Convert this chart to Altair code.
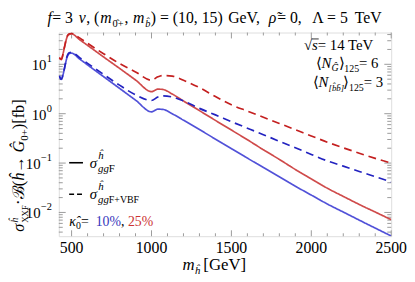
import altair as alt
import pandas as pd

# ---------------- data ----------------
mass = [423, 435, 455, 470, 485, 500, 550, 600, 700, 800, 900, 1000, 1040, 1070, 1130,
        1200, 1300, 1400, 1500, 1600, 1700, 1800, 1900, 2000, 2100, 2200, 2300, 2400, 2500]
ggf_k10 = [5.84, 4.97, 8.06, 13.36, 16.43, 16.81, 12.82, 9.73, 5.63, 3.26, 1.886, 1.091, 1.235, 1.224, 0.995,
           0.738, 0.477, 0.3055, 0.1956, 0.1259, 0.0813, 0.0526, 0.034, 0.02245, 0.01485, 0.01019, 0.00699, 0.00482, 0.00333]
ggf_k25 = [13.54, 12.47, 21.64, 34.3, 40.3, 41.2, 31.6, 24.2, 14.1, 8.28, 4.82, 2.80, 3.14, 3.10, 2.50,
           1.81, 1.153, 0.731, 0.466, 0.297, 0.186, 0.1186, 0.0742, 0.0479, 0.031, 0.02114, 0.01451, 0.01019, 0.00712]
ggfvbf_k10 = [5.84, 5.02, 8.25, 13.98, 17.2, 17.6, 13.67, 10.47, 6.26, 3.78, 2.415, 1.852, 2.176, 2.298, 2.176,
              1.81, 1.282, 0.946, 0.689, 0.509, 0.3757, 0.276, 0.204, 0.1498, 0.1106, 0.0867, 0.0677, 0.0531, 0.0416]
ggfvbf_k25 = [13.67, 12.76, 22.14, 35.87, 41.5, 42.5, 34.3, 26.6, 16.4, 10.37, 7.02, 4.75, 5.58, 5.92, 5.76,
              4.75, 3.37, 2.225, 1.512, 1.132, 0.847, 0.6345, 0.475, 0.354, 0.265, 0.204, 0.1584, 0.1246, 0.1]

series_names = ["ggF 10%", "ggF 25%", "ggF+VBF 10%", "ggF+VBF 25%"]
x_major = [500, 1000, 1500, 2000, 2500]
x_labels = ["500", "1000", "1500", "2000", "2500"]
x_minor = [m for m in range(600, 2500, 100) if m % 500 != 0]
y_major = [0.01, 0.1, 1, 10]
y_exponents = ["\u22122", "\u22121", "0", "1"]
y_minor = [k * 10.0 ** e for e in range(-3, 2) for k in range(2, 10) if 0.0033 <= k * 10.0 ** e <= 44]

# ---------------- layout / style ----------------
SERIF = "Liberation Serif"
FRAME = "#9a9a9a"
RED_S, RED_D = "#cf4a4a", "#c42020"
BLUE_S, BLUE_D = "#5151d8", "#2323c0"
W_PLOT, H_PLOT = 337, 206.5
PAD_L, PAD_T, PAD_R, PAD_B = 51.5, 23, 16, 42
OX, OY = 8 + PAD_L, 8 + PAD_T

xs = alt.Scale(domain=[420, 2500], nice=False, zero=False)
ys = alt.Scale(type="log", domain=[0.0033, 44], nice=False)

rows = []
for name, vals in zip(series_names, [ggf_k10, ggf_k25, ggfvbf_k10, ggfvbf_k25]):
    for m, v in zip(mass, vals):
        rows.append({"m": m, "v": v, "s": name})
df = pd.DataFrame(rows)

lines = alt.Chart(df).mark_line(strokeWidth=1.7, interpolate="monotone", clip=True).encode(
    x=alt.X("m:Q", scale=xs, axis=None),
    y=alt.Y("v:Q", scale=ys, axis=None),
    color=alt.Color("s:N", scale=alt.Scale(domain=series_names, range=[BLUE_S, RED_S, BLUE_D, RED_D]), legend=None),
    strokeDash=alt.StrokeDash("s:N", scale=alt.Scale(domain=series_names, range=[[1, 0], [1, 0], [8, 5], [8, 5]]), legend=None),
    detail="s:N",
)


def xticks(vals, length, top):
    d = pd.DataFrame({"m": vals})
    y1, y2 = (0, length) if top else (H_PLOT, H_PLOT - length)
    return alt.Chart(d).mark_rule(color=FRAME, strokeWidth=1).encode(
        x=alt.X("m:Q", scale=xs, axis=None), y=alt.value(y1), y2=alt.value(y2))


def yticks(vals, length, right):
    d = pd.DataFrame({"v": vals})
    x1, x2 = (W_PLOT, W_PLOT - length) if right else (0, length)
    return alt.Chart(d).mark_rule(color=FRAME, strokeWidth=1).encode(
        y=alt.Y("v:Q", scale=ys, axis=None), x=alt.value(x1), x2=alt.value(x2))


ticks = [xticks(x_major, 6, False), xticks(x_major, 6, True), xticks(x_minor, 3, False), xticks(x_minor, 3, True),
         yticks(y_major, 7, False), yticks(y_major, 7, True), yticks(y_minor, 4, False), yticks(y_minor, 4, True)]

# x tick labels
xlab = alt.Chart(pd.DataFrame({"m": x_major, "t": x_labels})).mark_text(
    font=SERIF, fontSize=16, align="center", baseline="alphabetic", color="black").encode(
    x=alt.X("m:Q", scale=xs, axis=None), y=alt.value(255 - OY), text="t:N")

# y tick labels "10^e"
ylab_df = pd.DataFrame({"v": y_major, "e": y_exponents})
ylab_base = alt.Chart(ylab_df).transform_calculate(
    xo="length(datum.e) > 1 ? -18.5 : -12.5")
ylab_ten = ylab_base.mark_text(font=SERIF, fontSize=15, align="right", baseline="middle", dy=1, color="black").encode(
    y=alt.Y("v:Q", scale=ys, axis=None), x=alt.X("xo:Q", scale=None), text=alt.value("10"))
ylab_exp = ylab_base.mark_text(font=SERIF, fontSize=10.5, align="right", baseline="middle", dy=-5, color="black").encode(
    y=alt.Y("v:Q", scale=ys, axis=None), x=alt.value(-7), text="e:N")

# ---------------- text annotations ----------------
CW = {' ': 0.25, ',': 0.25, '.': 0.25, '(': 0.333, ')': 0.333, '[': 0.333, ']': 0.333, '=': 0.564, '+': 0.564,
      '%': 0.833, '\u2212': 0.564, '\u00b7': 0.4, '\u2192': 0.75, '\u27e8': 0.39, '\u27e9': 0.39, '\u221a': 0.55,
      'f': 0.278, 'v': 0.444, 'm': 0.722, 'b': 0.5, 'h': 0.5, '\u0125': 0.5, 'g': 0.5, 's': 0.389, '\u03c1': 0.5,
      '\u03ba': 0.5, '\u03c3': 0.55, 'e': 0.444, 'G': 0.722, '\u011c': 0.722, 'V': 0.722, 'T': 0.611, '\u039b': 0.7,
      'N': 0.667, 'B': 0.667, '\u212c': 0.75, 'X': 0.722, 'F': 0.556,
      '\u0302': 0.0, '\u0303': 0.0, '\u0304': 0.0}


def wid(t, size):
    return sum(CW.get(c, 0.5) for c in t) * size


text_layers = []


def place(x0, y0, segs, angle=0, end=None):
    advs = [wid(s[0], s[2]) if (len(s) <= 5 or s[5]) else 0.0 for s in segs]
    stretch = 1.0
    if end is not None:
        total = sum(advs[:-1])
        stretch = (abs(end - (x0 if angle == 0 else y0)) - advs[-1]) / total
    pos = 0.0
    for seg, a in zip(segs, advs):
        t, style, size, shift = seg[:4]
        color = seg[4] if len(seg) > 4 and seg[4] else "black"
        if angle == 0:
            px, py = x0 + pos, y0 + shift
        else:
            px, py = x0 + shift, y0 - pos
        text_layers.append(alt.Chart().mark_text(
            font=SERIF, fontStyle="italic" if style == "i" else "normal", align="left", baseline="alphabetic"
        ).encode(x=alt.value(px - OX), y=alt.value(py - OY), text=alt.value(t), size=alt.value(size),
                 color=alt.value(color), angle=alt.value(angle)))
        pos += a * stretch


# title
TS = 16
place(48, 21, [("f", "i", TS, 0), (" = 3", "r", TS, 0), ("v", "i", TS, 0), (", (", "r", TS, 0),
               ("m", "i", TS, 0), ("0\u0302+", "r", 10.5, 4), (", ", "r", TS, 0),
               ("m", "i", TS, 0), ("b\u0302", "i", 10.5, 4), (") = (10, 15)", "r", TS, 0),
               ("GeV, ", "r", TS, 0), ("\u03c1\u0303", "i", TS, 0),
               (" = 0, ", "r", TS, 0), ("\u039b = 5 ", "r", TS, 0), ("TeV", "r", TS, 0)], end=388)
# x title
place(185, 272, [("m", "i", 17, 0), ("\u0125", "i", 11, 4)])
place(206, 272, [("[GeV]", "r", 17, 0)])
# y title (rotated)
place(24, 233, [("\u03c3", "i", 16.5, 0), ("\u0125", "i", 10, -5.5, None, False), ("XXF", "r", 9, 4),
                ("\u00b7", "r", 16.5, 0), ("\u212c", "r", 16.5, 0), ("(", "r", 16.5, 0), ("\u0125", "i", 16.5, 0),
                (" \u2192 ", "r", 16.5, 0), ("\u011c", "i", 16.5, 0), ("0+", "r", 11, 4), (")", "r", 16.5, 0),
                (" [fb]", "r", 16.5, 0)], angle=270)
# top right
place(308, 49, [("\u221a", "r", 15, 0), ("s", "i", 15, 0), (" = 14 TeV", "r", 15, 0)])
place(320, 67, [("\u27e8", "r", 15, 0), ("N", "i", 15, 0), ("\u011c", "i", 10, 3), ("\u27e9", "r", 15, 0),
                ("125", "r", 10, 4), (" = 6", "r", 15, 0)])
place(317, 86, [("\u27e8", "r", 15, 0), ("N", "i", 15, 0), ("[b\u0302b\u0304]", "i", 9, 4), ("\u27e9", "r", 15, 0),
                ("125", "r", 10, 4), (" = 3", "r", 15, 0)])
# legend
place(91, 168, [("\u03c3", "i", 15, 0), ("\u0125", "i", 11, -9, None, False), ("gg", "i", 11, 4), ("F", "r", 11, 4)])
place(91, 200, [("\u03c3", "i", 15, 0), ("\u0125", "i", 11, -9, None, False), ("gg", "i", 11, 4), ("F+VBF", "r", 10, 4)])
place(70, 227, [("\u03ba\u0302", "i", 14, 0), ("0", "r", 10, 3), (" = ", "r", 14, 0), ("10%", "r", 14, 0, "#3535bb"),
                (", ", "r", 14, 0), ("25%", "r", 14, 0, "#cc3333")])

leg_solid = alt.Chart().mark_rule(color="black", strokeWidth=1.6).encode(
    x=alt.value(70 - OX), x2=alt.value(84 - OX), y=alt.value(163 - OY))
leg_dash = alt.Chart().mark_rule(color="black", strokeWidth=1.6, strokeDash=[5, 3]).encode(
    x=alt.value(70 - OX), x2=alt.value(86 - OX), y=alt.value(195 - OY))
sqrt_bar = alt.Chart().mark_rule(color="black", strokeWidth=0.8).encode(
    x=alt.value(316 - OX), x2=alt.value(323 - OX), y=alt.value(37.5 - OY))

chart = alt.layer(
    *ticks, lines, xlab, ylab_ten, ylab_exp, leg_solid, leg_dash, sqrt_bar, *text_layers,
    data=pd.DataFrame({"d": [0]})
).properties(
    width=W_PLOT, height=H_PLOT,
    padding={"left": PAD_L, "top": PAD_T, "right": PAD_R, "bottom": PAD_B},
    autosize=alt.AutoSizeParams(type="none"),
).configure_view(stroke=FRAME, strokeWidth=1).configure(background="white")

chart.save("out.html", embed_options={"renderer": "svg", "actions": False})
